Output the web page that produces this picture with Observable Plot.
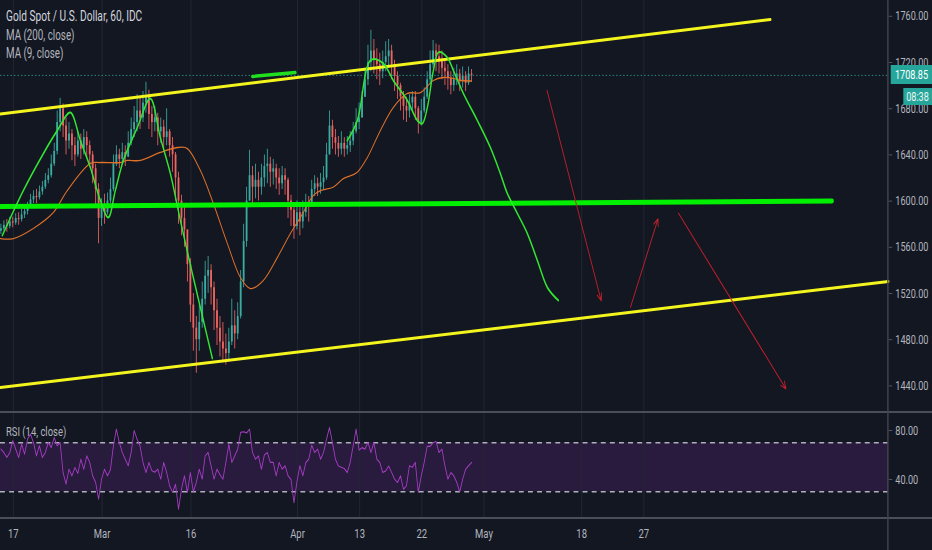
<!DOCTYPE html>
<html><head><meta charset="utf-8">
<script src="https://cdn.jsdelivr.net/npm/d3@7"></script>
<script src="https://cdn.jsdelivr.net/npm/@observablehq/plot@0.6"></script>
<style>
html,body{margin:0;padding:0;background:#131722;overflow:hidden;width:932px;height:550px}
#wrap{position:relative;width:1331px;height:550px;transform:scaleX(0.70023);transform-origin:0 0;font-family:Roboto,"Noto Sans",sans-serif;background:#131722}
#wrap svg{display:block}
.ov{position:absolute;white-space:nowrap}
</style></head><body><div id="wrap"></div>
<script>
// ---- data ----
const tickIdx = [0,10,20,32,39,46,53,64,71];           // trading-day index since Feb 17
const tickLabels = ["17","Mar","16","Apr","13","22","May","18","27"];
const priceTicks = [1440,1480,1520,1560,1600,1640,1680,1720,1760];
const rsiTicks = [40,80];
const rsiBand = [30,70];
const lastPrice = 1708.85;
const barStart = -1.4, barStep = 1/3, firstOpen = 1574;
const closes = [1576,1579,1578,1582,1581,1585,1584,1588,1591,1594,1601,1604,1603,1608,1612,1618,1622,1632,
1643,1668,1680,1665,1652,1658,1648,1640,1652,1645,1655,1648,1640,1628,1610,1585,1595,1590,
1600,1610,1632,1640,1636,1642,1638,1650,1662,1668,1678,1672,1685,1690,1675,1668,1672,1660,
1664,1655,1660,1648,1640,1620,1600,1585,1575,1545,1510,1490,1480,1495,1515,1535,1540,1525,
1505,1490,1478,1472,1468,1478,1492,1485,1500,1530,1565,1600,1622,1612,1618,1612,1620,1630,
1632,1625,1628,1620,1615,1622,1618,1600,1592,1578,1590,1582,1590,1598,1595,1610,1615,1612,
1616,1620,1640,1665,1655,1650,1645,1650,1645,1648,1652,1660,1668,1672,1690,1705,1720,1730,
1722,1718,1712,1720,1725,1730,1718,1708,1700,1690,1682,1678,1685,1690,1680,1668,1678,1690,
1705,1718,1730,1725,1722,1715,1712,1706,1700,1705,1710,1704,1708,1702,1710,1709];
const highs = [1580,1583,1584,1586,1586,1589,1590,1593,1596,1599,1606,1609,1610,1613,1617,1624,1628,1640,
1650,1678,1689,1684,1672,1668,1662,1655,1660,1658,1662,1660,1652,1643,1632,1615,1602,1606,
1607,1620,1640,1648,1645,1650,1648,1660,1672,1682,1692,1690,1695,1703,1696,1682,1682,1676,
1672,1670,1680,1662,1655,1642,1625,1605,1596,1575,1550,1520,1500,1510,1530,1548,1552,1545,
1530,1515,1500,1495,1485,1490,1515,1505,1512,1540,1580,1612,1644,1630,1632,1625,1632,1640,
1645,1638,1636,1632,1628,1630,1628,1620,1605,1598,1600,1596,1600,1606,1604,1618,1622,1620,
1624,1630,1650,1678,1670,1662,1656,1660,1655,1656,1660,1668,1680,1685,1695,1715,1735,1748,
1740,1732,1728,1730,1738,1740,1735,1722,1712,1702,1695,1690,1692,1695,1695,1682,1688,1698,
1712,1730,1739,1736,1735,1730,1722,1718,1712,1715,1718,1714,1716,1712,1716,1714];
const lows = [1571,1574,1573,1576,1577,1579,1579,1582,1585,1588,1594,1598,1598,1601,1605,1610,1615,1620,
1630,1640,1660,1655,1640,1645,1635,1630,1638,1636,1640,1637,1630,1615,1595,1563,1578,1580,
1588,1598,1608,1630,1628,1632,1630,1638,1648,1655,1660,1662,1668,1676,1662,1655,1660,1648,
1650,1645,1648,1638,1625,1600,1580,1570,1560,1530,1495,1470,1451,1470,1490,1510,1520,1510,
1488,1475,1465,1460,1458,1462,1475,1472,1480,1498,1525,1560,1600,1598,1602,1600,1605,1612,
1615,1612,1614,1610,1605,1610,1605,1585,1578,1567,1575,1570,1576,1586,1582,1598,1604,1604,
1606,1610,1618,1640,1645,1640,1638,1640,1638,1640,1642,1648,1658,1662,1675,1690,1700,1712,
1710,1705,1700,1706,1712,1715,1705,1695,1688,1678,1670,1668,1672,1678,1670,1658,1665,1676,
1688,1700,1715,1712,1710,1705,1700,1696,1692,1695,1700,1695,1698,1695,1700,1703];
const rsiValues = [64.8,62.0,58,62,71.6,64.8,58,68.8,60.7,72.9,
77,70.2,59.3,67.5,58,62,70.2,66.1,74.3,67.5,
70,45.7,36.2,48.4,43,49.8,45,56.6,48.4,59.3,
53.9,43,37.6,23.9,40.3,48.4,43,48,67.5,81.1,
70.2,62,56.6,51.2,62,80,72.9,67.5,53.9,45.7,
53.9,47.1,46,48.4,40.3,53.9,45.7,34.8,29.4,36,
15.8,32.1,43,29.4,45.7,30,37.6,48.4,40.3,59.3,
62,51.2,40.3,48.4,44,40.3,53.9,68.8,53.9,59.3,
64.8,78.4,79,78,81.1,62,56.6,59.3,48.4,60,
62,54,53.9,43,53.9,48.4,51.2,43,40,21.2,
38,51.2,43,53.9,56.6,68,62,64.8,56.6,62,
72.9,82.4,70.2,56.6,51,50,49,45.7,53.9,67.5,
81.1,64,66,64.8,70.2,62,70.2,56.6,53.9,45.7,
47,51,45.7,40.3,37.6,43,32.1,34.8,51.2,50,
53.9,29.4,43,53.9,67,67,70,71,62,64.8,
51.2,40.3,45.7,43,37.6,30,40.3,48.4,51.2,53.9];
const ma200T = [-1.46,0,2.25,4.5,6.08,8.67,9.8,12.05,12.84,14.3,16.55,18.47,19.6,21.06,22.52,24.1,25.56,26.69,28.15,29.73,31.19,32.32,33.78,34.6,36.0,37.2,38.7,39.86,41.33,42.79,44.37,45.83,47.3,48.42,49.55,50.34,51.6];
const ma200V = [1567.6,1567.6,1576.3,1590.1,1609.2,1632.6,1633.4,1633.4,1635.2,1635.2,1642.1,1646.4,1645.5,1626.5,1598,1563.3,1533.9,1524.3,1531.3,1551.2,1571.9,1585.8,1604.8,1609,1612,1619.6,1624.8,1637.7,1661.1,1681,1693.2,1694,1704.4,1707,1706.2,1704.4,1704];
const pathAT = [-1.24,1.13,3.38,4.95,6.42,7.55,8.67,9.8,10.7,11.49,12.39,13.96,15.43,16.55,17.68,18.81,20.16,21.4,22.41];
const pathAV = [1570.2,1609.2,1641.2,1661.1,1676.7,1652.5,1629.1,1600.5,1585.8,1609.2,1635.2,1663.7,1688.8,1655.1,1623.9,1583.2,1537.3,1496.7,1463.8];
const pathBT = [37.61,38.74,40.2,41.67,42.79,44.37,45.5,46.06,46.62,47.3,47.86,48.87,49.55,50.68,52.25,53.72,54.84,55.63,56.76,57.88,59.01,60.14,61.37];
const pathBV = [1652.5,1669.8,1721.7,1719.1,1704.4,1687.1,1669.8,1667.2,1681,1713.1,1728.7,1724.4,1713.1,1693.2,1669.8,1646.4,1623.9,1606.6,1589.3,1572,1548.6,1525.2,1514];
const upperChannel = [[-1.464,1675.5],[85.25,1757.2]];
const lowerChannel = [[-1.464,1438.6],[98.54,1530.4]];
const supportLine = [[-1.464,1595.3],[92.2,1600.1]];
const shortGreen = [[26.91,1707.9],[31.76,1711.3]];
const arrows = [[60.1,1695.8,66.2,1513.7],[69.5,1508.1,72.6,1584.7],[74.9,1589.5,87.0,1437.5]];

// ---- layout ----
const s = 0.70023, W = 1331, mr = 44 / s;
const xDomain = [-13/8.88, 875/8.88];
const font = "Roboto, 'Noto Sans', sans-serif";
const UP = "#3aaca1", DOWN = "#ef6461", GRID = "#232733", TXT = "#b2b5be";

const bars = closes.map((c, i) => {
  const o = i ? closes[i-1] : firstOpen;
  return {t: barStart + i*barStep, o, c, h: Math.max(highs[i], o, c), l: Math.min(lows[i], o, c)};
});
const upBars = bars.filter(b => b.c >= b.o), downBars = bars.filter(b => b.c < b.o);
const ma200 = ma200T.map((t, i) => ({t, v: ma200V[i]}));
const pathA = pathAT.map((t, i) => ({t, v: pathAV[i]}));
const pathB = pathBT.map((t, i) => ({t, v: pathBV[i]}));
const rsi = rsiValues.map((v, i) => ({t: barStart + i*barStep, v}));

const main = Plot.plot({
  width: W, height: 412, marginLeft: 0, marginTop: 0, marginBottom: 0, marginRight: mr,
  style: {background: "transparent", color: TXT, fontFamily: font, fontSize: "13px", overflow: "visible"},
  x: {domain: xDomain, axis: null},
  y: {domain: [1416.97, 1773.68], axis: null},
  marks: [
    Plot.ruleX(tickIdx, {stroke: GRID, strokeWidth: 1.4}),
    Plot.ruleX(downBars, {x: "t", y1: "l", y2: "h", stroke: DOWN, strokeWidth: 1.2}),
    Plot.ruleX(upBars, {x: "t", y1: "l", y2: "h", stroke: UP, strokeWidth: 1.2}),
    Plot.ruleX(downBars, {x: "t", y1: "o", y2: "c", stroke: DOWN, strokeWidth: 2.6}),
    Plot.ruleX(upBars, {x: "t", y1: "o", y2: "c", stroke: UP, strokeWidth: 2.6}),
    Plot.line(ma200, {x: "t", y: "v", stroke: "#e0712a", strokeWidth: 1.3, curve: "catmull-rom"}),
    Plot.ruleY([lastPrice], {stroke: "#26a69a", strokeDasharray: "2,3", strokeWidth: 1}),
    Plot.line(supportLine, {x: d => d[0], y: d => d[1], stroke: "#00f000", strokeWidth: 5}),
    Plot.line(upperChannel, {x: d => d[0], y: d => d[1], stroke: "#f5f51e", strokeWidth: 3}),
    Plot.line(lowerChannel, {x: d => d[0], y: d => d[1], stroke: "#f5f51e", strokeWidth: 3}),
    Plot.line(shortGreen, {x: d => d[0], y: d => d[1], stroke: "#1fe01f", strokeWidth: 3.5}),
    Plot.line(pathA, {x: "t", y: "v", stroke: "#33e633", strokeWidth: 2, curve: "catmull-rom"}),
    Plot.line(pathB, {x: "t", y: "v", stroke: "#33e633", strokeWidth: 2, curve: "catmull-rom"}),
    Plot.arrow(arrows, {x1: d => d[0], y1: d => d[1], x2: d => d[2], y2: d => d[3], stroke: "#c4202a", strokeWidth: 1.2, headLength: 10, headAngle: 50}),
    Plot.axisY(priceTicks, {anchor: "right", label: null, tickFormat: d => d.toFixed(2), tickSize: 5, tickPadding: 5, stroke: "#5d606b", fill: TXT, fontSize: 13})
  ]
});

const rsiPlot = Plot.plot({
  width: W, height: 138, marginLeft: 0, marginTop: 0, marginBottom: 32, marginRight: mr,
  style: {background: "transparent", color: TXT, fontFamily: font, fontSize: "13px", overflow: "visible"},
  x: {domain: xDomain, axis: null},
  y: {domain: [8.16, 94.69], axis: null},
  marks: [
    Plot.rect([rsiBand], {y1: d => d[0], y2: d => d[1], fill: "#7e2fb0", fillOpacity: 0.2}),
    Plot.ruleX(tickIdx, {stroke: GRID, strokeWidth: 1.4}),
    Plot.ruleY(rsiBand, {stroke: "#c9cbd3", strokeOpacity: 0.85, strokeDasharray: "7,6", strokeWidth: 1.3}),
    Plot.line(rsi, {x: "t", y: "v", stroke: "#a83cc6", strokeWidth: 1.2}),
    Plot.axisY(rsiTicks, {anchor: "right", label: null, tickFormat: d => d.toFixed(2), tickSize: 5, tickPadding: 5, stroke: "#5d606b", fill: TXT, fontSize: 13}),
    Plot.axisX(tickIdx, {anchor: "bottom", label: null, tickSize: 0, tickPadding: 10, tickFormat: d => tickLabels[tickIdx.indexOf(d)], fill: TXT, fontSize: 13.5})
  ]
});

const wrap = document.getElementById("wrap");
wrap.appendChild(main);
wrap.appendChild(rsiPlot);

function ov(html, css) {
  const d = document.createElement("div");
  d.className = "ov"; d.innerHTML = html; d.style.cssText += css;
  wrap.appendChild(d); return d;
}
// pane separators and price-axis border
ov("", "left:0;top:411px;width:" + W + "px;height:2px;background:#4a4e5a");
ov("", "left:0;top:517px;width:" + W + "px;height:2px;background:#4a4e5a");
ov("", "left:" + (888/s - 0.7) + "px;top:0;width:1.5px;height:550px;background:#434651");
// legend
ov("Gold Spot / U.S. Dollar, 60, IDC", "left:" + (6/s) + "px;top:8px;font-size:14.5px;color:#d1d4dc");
ov("MA (200, close)", "left:" + (6/s) + "px;top:27px;font-size:14px;color:#b2b5be");
ov("MA (9, close)", "left:" + (6/s) + "px;top:45px;font-size:14px;color:#b2b5be");
ov("RSI (14, close)", "left:" + (6/s) + "px;top:423px;font-size:13.5px;color:#b2b5be");
// last price + countdown labels (cover the neighbouring tick labels as in the reference)
const yp = main.scale("y").apply(lastPrice);
ov(lastPrice.toFixed(2), "left:" + (891/s) + "px;top:" + (yp - 9.5) + "px;width:" + ((932-891)/s) + "px;height:19px;line-height:19px;text-align:center;background:#26a69a;color:#fff;font-size:13px");
ov("08:38", "left:" + (903/s) + "px;top:" + (yp + 13) + "px;width:" + ((932-903)/s) + "px;height:17px;line-height:17px;text-align:center;background:#26a69a;color:#e8f5f3;font-size:13px");
</script></body></html>
